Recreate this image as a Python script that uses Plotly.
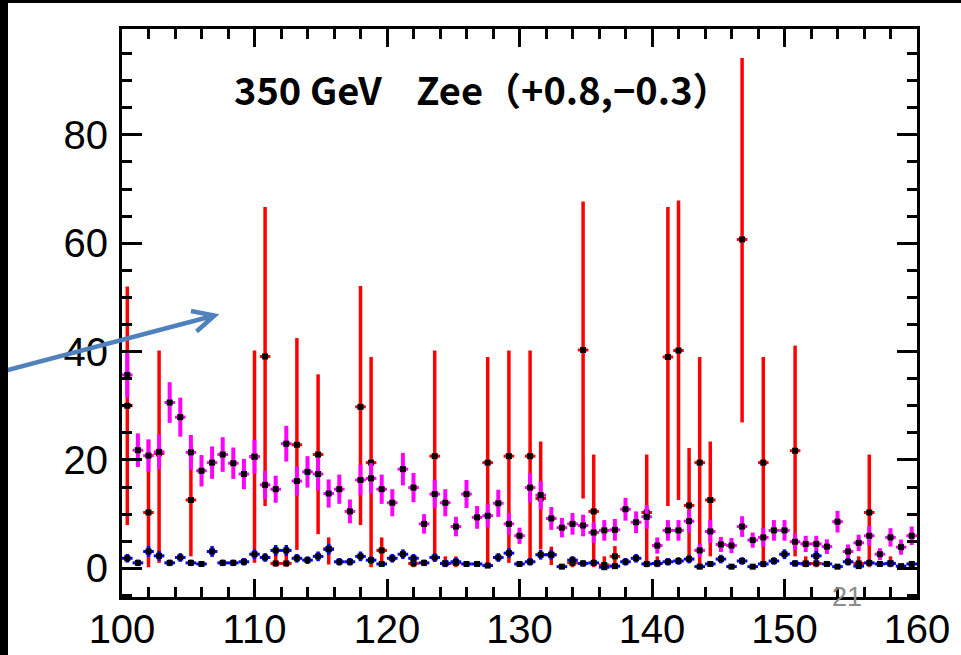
import plotly.graph_objects as go

# ---- data -------------------------------------------------------------
bin_lo, bin_hi, n_bins = 100.0, 160.0, 75
bin_width = (bin_hi - bin_lo) / n_bins
bin_centers = [bin_lo + bin_width * (i + 0.5) for i in range(n_bins)]
half_width = [bin_width / 2] * n_bins

red_val = [30.0, None, 10.3, 21.2, None, None, 12.6, None, None, None,
           None, None, 20.6, 39.1, 0.9, 0.9, 22.8, None, 21.0, 3.6,
           None, None, 29.8, 19.5, 3.3, None, None, 0.9, None, 20.7,
           0.9, 1.0, None, None, 19.5, None, 20.7, None, 20.7, 12.9,
           2.5, None, 1.0, 40.3, 10.5, 0.6, 2.2, None, None, 10.3,
           0.9, 39.0, 40.2, 11.6, 19.5, 12.6, None, None, 60.7, None,
           19.5, None, None, 21.7, 0.9, 0.9, None, None, None, 0.9,
           10.3, None, 0.9, None, None]
red_err_up = [22.0, 0, 13.4, 19.0, 0, 0, 10.4, 0, 0, 0,
              0, 0, 19.6, 27.6, 2.6, 2.6, 19.7, 0, 14.8, 2.1,
              0, 0, 22.3, 19.5, 2.4, 0, 0, 1.3, 0, 19.5,
              1.3, 1.2, 0, 0, 19.5, 0, 19.5, 0, 19.5, 10.5,
              1.5, 0, 1.2, 27.4, 10.5, 1.6, 1.9, 0, 0, 10.7,
              1.3, 27.7, 27.7, 10.6, 19.5, 10.8, 0, 0, 33.5, 0,
              19.5, 0, 0, 19.4, 1.3, 1.3, 0, 0, 0, 1.3,
              10.7, 0, 1.3, 0, 0]
red_err_dn = [22.0, 0, 10.1, 20.2, 0, 0, 10.4, 0, 0, 0,
              0, 0, 19.6, 27.6, 0.6, 0.6, 19.4, 0, 14.7, 2.9,
              0, 0, 21.8, 19.3, 2.5, 0, 0, 0.7, 0, 19.5,
              0.7, 0.8, 0, 0, 19.3, 0, 19.7, 0, 19.7, 9.4,
              1.9, 0, 0.8, 27.4, 10.3, 0.4, 2.0, 0, 0, 10.1,
              0.7, 27.5, 27.6, 9.8, 19.3, 10.4, 0, 0, 33.8, 0,
              19.3, 0, 0, 19.5, 0.7, 0.7, 0, 0, 0, 0.7,
              10.1, 0, 0.7, 0, 0]

mag_val = [35.7, 21.8, 20.8, 21.5, 30.6, 27.9, 21.4, 18.0, 19.5, 21.0,
           19.4, 17.4, 20.6, 15.4, 14.6, 23.0, 16.1, 17.8, 17.4, 13.8,
           14.6, 10.5, 16.3, 16.6, 14.6, 12.1, 18.3, 14.9, 8.2, 13.7,
           12.1, 7.7, 13.7, 9.4, 9.7, 12.0, 8.2, 6.0, 14.9, 13.5,
           9.2, 7.5, 8.2, 7.9, 6.6, 7.0, 7.1, 10.9, 8.5, 9.5,
           4.2, 7.0, 7.0, 8.7, 3.3, 6.8, 4.4, 4.2, 7.7, 5.2,
           5.7, 7.0, 7.0, 4.9, 4.5, 4.5, 4.0, 8.6, 3.1, 4.7,
           6.0, 2.6, 5.7, 3.9, 6.0]
mag_err = [4.2, 3.1, 3.0, 3.2, 3.75, 3.6, 3.2, 2.9, 3.0, 3.2,
           2.9, 2.8, 3.1, 2.6, 2.5, 3.3, 2.7, 2.9, 3.0, 2.6,
           2.7, 2.2, 2.8, 2.8, 2.7, 2.5, 3.0, 2.7, 1.8, 2.6,
           2.5, 1.8, 2.6, 2.1, 2.1, 2.5, 2.0, 1.5, 2.7, 2.6,
           2.1, 1.8, 2.0, 2.0, 1.9, 1.9, 2.0, 2.1, 2.0, 2.2,
           1.5, 1.9, 1.9, 2.1, 1.2, 2.1, 1.4, 1.4, 1.9, 1.4,
           1.7, 1.9, 1.9, 1.5, 1.5, 1.5, 1.35, 2.0, 1.3, 1.5,
           1.8, 1.1, 1.7, 1.4, 1.7]

blue_val = [1.85, 1.0, 3.1, 2.3, 1.0, 2.0, 1.0, 0.8, 3.1, 1.0,
            1.0, 1.2, 2.6, 2.0, 3.3, 3.3, 1.85, 1.5, 2.2, 3.5,
            1.2, 1.2, 2.2, 1.5, 0.8, 1.85, 2.6, 1.85, 1.0, 2.0,
            0.9, 1.2, 0.8, 0.8, 0.5, 2.0, 2.8, 0.8, 1.2, 2.5,
            2.5, 0.3, 1.5, 0.9, 1.0, 0.2, 0.4, 1.2, 1.85, 0.8,
            0.9, 1.2, 1.35, 1.7, 0.3, 0.8, 1.7, 0.3, 1.35, 0.3,
            0.8, 1.35, 2.6, 0.9, 0.8, 2.3, 0.8, 0.3, 1.2, 0.4,
            1.0, 0.8, 0.9, 0.4, 0.8]
blue_err = [0.8, 0.6, 1.0, 0.9, 0.6, 0.8, 0.6, 0.5, 1.0, 0.6,
            0.6, 0.7, 0.9, 0.8, 1.0, 1.0, 0.8, 0.7, 0.9, 1.0,
            0.7, 0.7, 0.9, 0.7, 0.5, 0.8, 0.9, 0.8, 0.6, 0.8,
            0.6, 0.7, 0.5, 0.5, 0.4, 0.8, 0.9, 0.5, 0.7, 0.9,
            0.9, 0.3, 0.7, 0.6, 0.6, 0.3, 0.4, 0.7, 0.8, 0.5,
            0.6, 0.7, 0.7, 0.8, 0.3, 0.5, 0.8, 0.3, 0.7, 0.3,
            0.5, 0.7, 0.9, 0.6, 0.5, 0.9, 0.5, 0.3, 0.7, 0.4,
            0.6, 0.5, 0.6, 0.4, 0.5]

x_ticks = [100, 110, 120, 130, 140, 150, 160]
y_ticks = [0, 20, 40, 60, 80]
title_text = "<b>350 GeV\u00a0\u00a0\u00a0\u00a0Zee（+0.8,−0.3）</b>"
page_number = "21"

# ---- layout geometry ---------------------------------------------------
W, H = 961, 655
ML, MR, MT, MB = 122, 44, 29, 58
PW, PH = W - ML - MR, H - MT - MB


def px(xp):
    return (xp - ML) / PW


def py(yp):
    return (H - MB - yp) / PH


fig = go.Figure()


def add_series(y, eup, edn, color, vthick):
    fig.add_trace(go.Scatter(
        x=bin_centers, y=y, mode="markers",
        marker=dict(symbol="square", size=6, color="black", line=dict(width=0)),
        error_x=dict(type="data", array=half_width, color=color,
                     thickness=3, width=0),
        error_y=dict(type="data", array=eup, arrayminus=edn, symmetric=False,
                     color=color, thickness=vthick, width=0),
        showlegend=False, hoverinfo="skip"))


add_series(red_val, red_err_up, red_err_dn, "#ff0000", 3.5)
add_series(mag_val, mag_err, mag_err, "#ff00ff", 4)
add_series(blue_val, blue_err, blue_err, "#0000ff", 3.5)

axis_common = dict(showline=True, linewidth=3, linecolor="black",
                   mirror="ticks", ticks="inside", tickwidth=3,
                   tickcolor="black", showgrid=False, zeroline=False,
                   automargin=False,
                   tickfont=dict(family="Liberation Sans, Arial, sans-serif",
                                 size=40, color="black"))

fig.update_xaxes(range=[bin_lo, bin_hi], tickvals=x_ticks, ticklen=18,
                 ticklabelstandoff=-5,
                 minor=dict(dtick=2, ticklen=10, tickwidth=3,
                            tickcolor="black", ticks="inside"),
                 **axis_common)
fig.update_yaxes(range=[-5.3, 99.55], tickvals=y_ticks, ticklen=20,
                 ticklabelstandoff=3,
                 minor=dict(dtick=5, ticklen=10, tickwidth=3,
                            tickcolor="black", ticks="inside"),
                 **axis_common)

# arrow (pixel geometry)
tail, tip = (0, 372), (214.5, 315.5)
arm1, arm2 = (191, 311), (196.5, 331.5)
path = (f"M {px(tail[0])},{py(tail[1])} L {px(tip[0])},{py(tip[1])} "
        f"M {px(arm1[0])},{py(arm1[1])} L {px(tip[0])},{py(tip[1])} "
        f"L {px(arm2[0])},{py(arm2[1])}")
shapes = [
    dict(type="path", xref="paper", yref="paper", path=path,
         line=dict(color="#4f81bd", width=4.5), layer="above"),
    dict(type="rect", xref="paper", yref="paper", x0=px(0), x1=px(8),
         y0=py(H), y1=py(0), fillcolor="black", line=dict(width=0)),
    dict(type="rect", xref="paper", yref="paper", x0=px(0), x1=px(W),
         y0=py(3), y1=py(0), fillcolor="black", line=dict(width=0)),
]

annotations = [
    dict(text=title_text, xref="paper", yref="paper", x=px(232), y=py(89),
         xanchor="left", yanchor="middle", showarrow=False,
         font=dict(family="Noto Sans CJK JP, sans-serif", size=38,
                   color="black")),
    dict(text=page_number, xref="paper", yref="paper", x=px(847), y=py(597),
         xanchor="center", yanchor="middle", showarrow=False,
         font=dict(family="Liberation Sans, Arial, sans-serif", size=27,
                   color="#8c8c8c")),
]

fig.update_layout(width=W, height=H, autosize=False,
                  margin=dict(l=ML, r=MR, t=MT, b=MB, pad=0),
                  paper_bgcolor="white", plot_bgcolor="white",
                  shapes=shapes, annotations=annotations)

fig.write_html("out.html", config={"displayModeBar": False},
               post_script="document.body.style.margin='0';")
